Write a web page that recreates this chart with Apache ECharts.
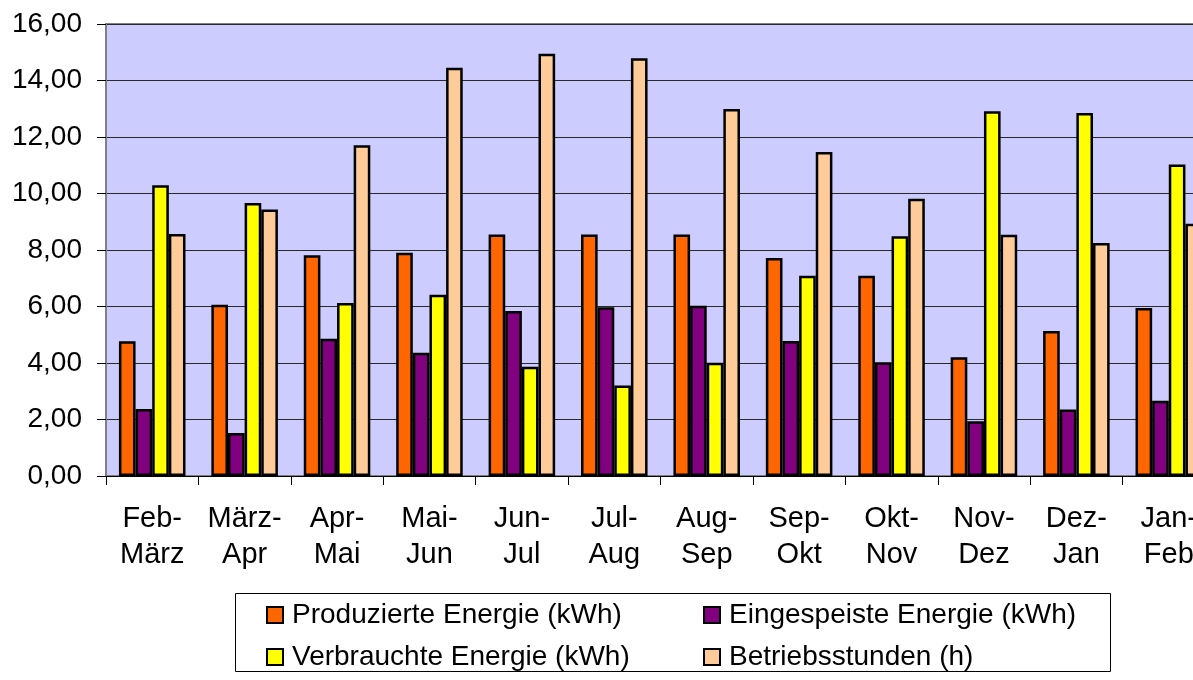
<!DOCTYPE html>
<html>
<head>
<meta charset="utf-8">
<script src="https://cdn.jsdelivr.net/npm/echarts@6/dist/echarts.min.js"></script>
<style>
html,body{margin:0;padding:0;background:#fff;}
#chart{width:1193px;height:680px;}
</style>
</head>
<body>
<div id="chart"></div>
<script>
const categories = ['Feb-\nMärz','März-\nApr','Apr-\nMai','Mai-\nJun','Jun-\nJul','Jul-\nAug','Aug-\nSep','Sep-\nOkt','Okt-\nNov','Nov-\nDez','Dez-\nJan','Jan-\nFeb'];
const seriesNames = ['Produzierte Energie (kWh)','Eingespeiste Energie (kWh)','Verbrauchte Energie (kWh)','Betriebsstunden (h)'];
const produziert  = [4.77, 6.06, 7.81, 7.90, 8.55, 8.55, 8.55, 7.72, 7.09, 4.20, 5.13, 5.95];
const eingespeist = [2.37, 1.52, 4.86, 4.36, 5.84, 5.97, 6.03, 4.78, 4.03, 1.94, 2.35, 2.66];
const verbraucht  = [10.29, 9.66, 6.12, 6.42, 3.87, 3.20, 4.01, 7.09, 8.49, 12.91, 12.85, 11.03];
const betrieb     = [8.57, 9.43, 11.71, 14.45, 14.95, 14.79, 12.99, 11.47, 9.81, 8.54, 8.25, 8.93];
const colors = ['#FF6600','#800080','#FFFF00','#FFCC99'];

const FONT = "'Liberation Sans', Arial, sans-serif";
const chart = echarts.init(document.getElementById('chart'));
const allData = [produziert, eingespeist, verbraucht, betrieb];

chart.setOption({
  animation: false,
  textStyle: {fontFamily: FONT},
  grid: {left: 106, top: 24, width: 1109, height: 452, show: true,
         outerBoundsMode: 'none', containLabel: false,
         backgroundColor: '#CCCCFF', borderColor: '#808080', borderWidth: 2},
  legend: [
    {orient: 'vertical', left: 266, top: 601, padding: 0, itemWidth: 16, itemHeight: 16, itemGap: 14,
     icon: 'rect', data: [seriesNames[0], seriesNames[2]],
     textStyle: {fontSize: 28, color: '#000', fontFamily: FONT, padding: [0, 0, 0, 4]}},
    {orient: 'vertical', left: 703, top: 601, padding: 0, itemWidth: 16, itemHeight: 16, itemGap: 14,
     icon: 'rect', data: [seriesNames[1], seriesNames[3]],
     textStyle: {fontSize: 28, color: '#000', fontFamily: FONT, padding: [0, 0, 0, 4]}}
  ],
  graphic: [{type: 'rect', shape: {x: 235.5, y: 593.5, width: 875, height: 78},
             style: {fill: 'none', stroke: '#000', lineWidth: 1}, z: 0}],
  xAxis: {
    type: 'category', data: categories,
    axisLine: {show: true, lineStyle: {color: '#000', width: 1}},
    axisTick: {show: true, length: 9, interval: 0, lineStyle: {color: '#000'}},
    axisLabel: {interval: 0, fontSize: 29, color: '#000', margin: 25, lineHeight: 36,
                hideOverlap: false, fontFamily: FONT}
  },
  yAxis: {
    type: 'value', min: 0, max: 16, interval: 2,
    axisLine: {show: true, lineStyle: {color: '#808080', width: 2}},
    axisTick: {show: true, length: 9, lineStyle: {color: '#000'}},
    axisLabel: {fontSize: 28, color: '#000', margin: 24, fontFamily: FONT,
                formatter: v => v.toFixed(2).replace('.', ',')},
    splitLine: {show: true, lineStyle: {color: '#2a2a2a', width: 1}}
  },
  series: allData.map((d, i) => ({
    name: seriesNames[i], type: 'bar', data: d,
    barGap: 0, barCategoryGap: '28%',
    itemStyle: {color: colors[i], borderColor: '#000', borderWidth: 2.5}
  }))
});
</script>
</body>
</html>
